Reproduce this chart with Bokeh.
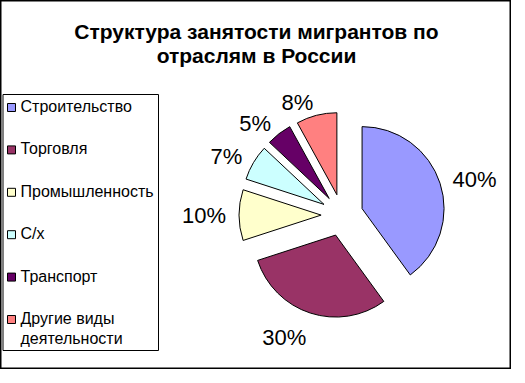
import math
from bokeh.plotting import figure
from bokeh.models import ColumnDataSource, Range1d
from bokeh.core.properties import value
from bokeh.embed import file_html
from bokeh.resources import INLINE

# ---- data ----
title_lines = ["Структура занятости мигрантов по", "отраслям в России"]
categories = ["Строительство", "Торговля", "Промышленность", "С/х", "Транспорт",
              "Другие виды\nдеятельности"]
values = [40, 30, 10, 7, 5, 8]
colors = ["#9999FF", "#993366", "#FFFFCC", "#CCFFFF", "#660066", "#FF8080"]

W, H = 511, 369
FONT = "Liberation Sans"

p = figure(width=W, height=H, output_backend="svg", toolbar_location=None, tools="",
           x_range=Range1d(0, W), y_range=Range1d(0, H), min_border=0)
p.axis.visible = False
p.grid.visible = False
p.outline_line_color = "black"
p.outline_line_width = 2
p.background_fill_color = "white"
p.border_fill_color = "white"

# ---- pie geometry ----
cx, cy = 341.6, 154.4
radius = 82
explode = 21
label_r = 116

total = sum(values)
starts, ends, xs, ys, lx, ly, aligns, bases, texts = [], [], [], [], [], [], [], [], []
cum = 0.0
for v in values:
    t0 = cum / total * 2 * math.pi
    cum += v
    t1 = cum / total * 2 * math.pi
    tm = (t0 + t1) / 2
    starts.append(math.pi / 2 - t0)
    ends.append(math.pi / 2 - t1)
    xs.append(cx + explode * math.sin(tm))
    ys.append(cy + explode * math.cos(tm))
    lx.append(cx + label_r * math.sin(tm))
    ly.append(cy + label_r * math.cos(tm))
    s, c = math.sin(tm), math.cos(tm)
    aligns.append("right" if s < -0.1 else ("left" if s > 0.1 else "center"))
    bases.append("alphabetic" if c > 0.6 else ("top" if c < -0.6 else "middle"))
    texts.append(f"{v}%")

src = ColumnDataSource(dict(x=xs, y=ys, start=starts, end=ends, color=colors,
                            lx=lx, ly=ly, align=aligns, base=bases, text=texts))
p.wedge(x="x", y="y", radius=radius, start_angle="start", end_angle="end",
        direction="clock", fill_color="color", line_color="black", line_width=1,
        source=src)
p.text(x="lx", y="ly", text="text", text_align="align", text_baseline="base",
       text_font=value(FONT), text_font_size="22px", text_color="black", source=src)

# ---- title ----
p.text(x=[W / 2 + 0.5] * 2, y=[338, 314], text=title_lines, text_align="center",
       text_baseline="alphabetic", text_font=value(FONT), text_font_size="21px",
       text_font_style="bold", text_color="black")

# ---- legend ----
leg_left, leg_right, leg_top, leg_bottom = 2.5, 158, 275, 19
p.quad(left=[leg_left], right=[leg_right], top=[leg_top], bottom=[leg_bottom],
       fill_color="white", line_color="black", line_width=1)
n = len(categories)
ey = [262 - i * 42.4 for i in range(n)]
p.rect(x=[11] * n, y=ey, width=8, height=8, fill_color=colors, line_color="black",
       line_width=1)
p.text(x=[20] * n, y=[e + 9.5 for e in ey], text=categories, text_align="left",
       text_baseline="top", text_font=value(FONT), text_font_size="16px",
       text_line_height=1.15, text_color="black")

open("out.html", "w").write(file_html(p, INLINE))
